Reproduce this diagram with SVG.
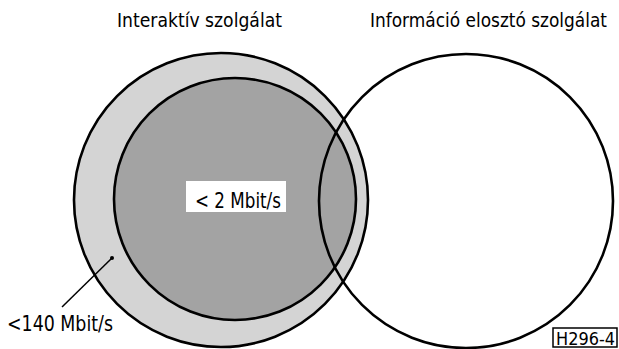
<svg xmlns="http://www.w3.org/2000/svg" width="619" height="349" viewBox="0 0 619 349">
<style>
.ln{stroke:#000;stroke-width:2.6;}
.t{font-family:"Liberation Sans Narrow","DejaVu Sans Condensed","Liberation Sans",sans-serif;fill:#000;}
</style>
<rect width="619" height="349" fill="#fff"/>
<g id="interaktiv-outer">
<circle class="ln" cx="221" cy="200" r="147" fill="#d4d4d4"/>
</g>
<g id="interaktiv-inner">
<circle class="ln" cx="235" cy="199" r="121" fill="#a3a3a3" stroke-width="3"/>
<rect x="186" y="181" width="100" height="31" fill="#fff"/>
<text class="t" x="195" y="208" font-size="22" textLength="86" lengthAdjust="spacingAndGlyphs">&lt; 2 Mbit/s</text>
</g>
<g id="informacio">
<circle class="ln" cx="466" cy="201" r="147" fill="none"/>
</g>
<g id="titles">
<text class="t" x="117" y="27" font-size="19" textLength="165" lengthAdjust="spacingAndGlyphs">Interaktív  szolgálat</text>
<text class="t" x="370" y="27" font-size="19" textLength="237" lengthAdjust="spacingAndGlyphs">Információ elosztó szolgálat</text>
</g>
<g id="label-140">
<line x1="62" y1="307" x2="112" y2="258" stroke="#000" stroke-width="1.5"/>
<circle cx="112" cy="258" r="2" fill="#000"/>
<text class="t" x="7" y="331" font-size="22" textLength="106" lengthAdjust="spacingAndGlyphs">&lt;140 Mbit/s</text>
</g>
<g id="figure-id">
<rect x="553" y="328" width="64" height="19" fill="#fff" stroke="#000" stroke-width="1.5"/>
<text class="t" x="556" y="345" font-size="18" textLength="59" lengthAdjust="spacingAndGlyphs">H296-4</text>
</g>
</svg>
